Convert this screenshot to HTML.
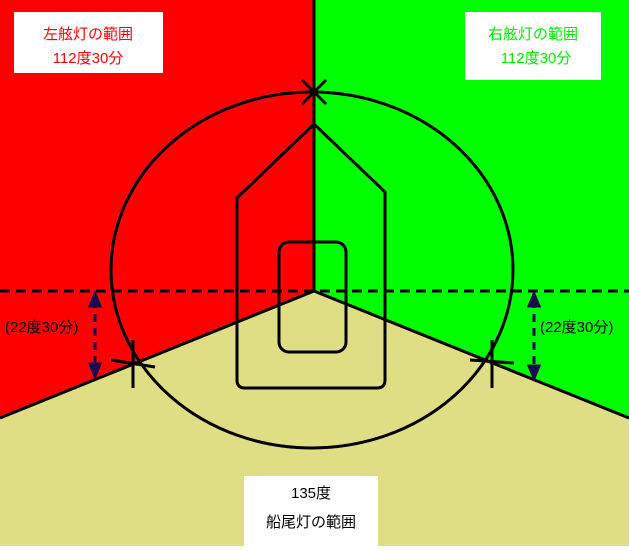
<!DOCTYPE html>
<html><head><meta charset="utf-8"><style>
body{margin:0;width:629px;height:546px;overflow:hidden}
svg text{font-family:"Liberation Sans","Noto Sans CJK JP",sans-serif;font-size:15px}
</style></head><body>
<svg width="629" height="546" viewBox="0 0 629 546" xmlns="http://www.w3.org/2000/svg">
<rect width="629" height="546" fill="#e0de84"/>
<polygon points="0,0 314,0 314,291 0,418" fill="#ff0000"/>
<polygon points="314,0 629,0 629,418 314,291" fill="#00ff00"/>
<polyline points="0,418 314,291 629,418" fill="none" stroke="#000" stroke-width="3"/>
<line x1="314" y1="0" x2="314" y2="291" stroke="#000" stroke-width="3"/>
<line x1="0" y1="291" x2="629" y2="291" stroke="#000" stroke-width="3" stroke-dasharray="10,6"/>
<ellipse cx="312" cy="270" rx="201" ry="178" fill="none" stroke="#000" stroke-width="3"/>
<path d="M237,198 L314,124 L385,192 L385,380 Q385,388 377,388 L245,388 Q237,388 237,380 Z" fill="none" stroke="#000" stroke-width="3"/>
<rect x="279" y="242" width="67" height="110" rx="10" fill="none" stroke="#000" stroke-width="3"/>
<g stroke="#000" stroke-width="3">
<line x1="302" y1="80" x2="326" y2="104"/><line x1="326" y1="80" x2="302" y2="104"/>
<line x1="133" y1="340" x2="133" y2="388"/><line x1="111" y1="360" x2="155" y2="367"/>
<line x1="492" y1="340" x2="492" y2="388"/><line x1="470" y1="360" x2="514" y2="363"/>
</g>
<g stroke="#1a0a50" stroke-width="3" fill="#1a0a50">
<line x1="95" y1="300" x2="95" y2="370" stroke-dasharray="8,6"/>
<polygon points="90,306 100,306 95,294"/><polygon points="90,364 100,364 95,376"/>
<line x1="534" y1="300" x2="534" y2="372" stroke-dasharray="8,6"/>
<polygon points="529,306 539,306 534,294"/><polygon points="529,366 539,366 534,378"/>
</g>
<text x="5" y="332" fill="#000">(22度30分)</text>
<text x="540" y="332" fill="#000">(22度30分)</text>
<rect x="14" y="12" width="149" height="61" fill="#fff"/>
<text x="88" y="39" fill="#ff0000" text-anchor="middle">左舷灯の範囲</text>
<text x="88" y="63" fill="#ff0000" text-anchor="middle">112度30分</text>
<rect x="465" y="12" width="136" height="68" fill="#fff"/>
<text x="533" y="39" fill="#00ee00" text-anchor="middle">右舷灯の範囲</text>
<text x="536" y="63" fill="#00ee00" text-anchor="middle">112度30分</text>
<rect x="244" y="476" width="134" height="70" fill="#fff"/>
<text x="311" y="498" fill="#000" text-anchor="middle">135度</text>
<text x="311" y="527" fill="#000" text-anchor="middle">船尾灯の範囲</text>
</svg>
</body></html>
